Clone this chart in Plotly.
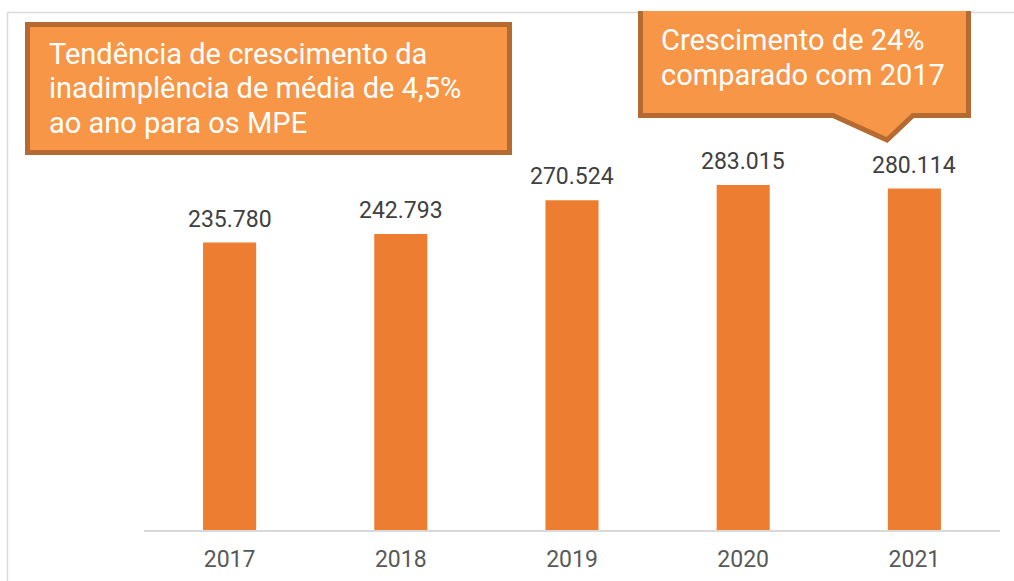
import plotly.graph_objects as go

# ---- data ----
years = ["2017", "2018", "2019", "2020", "2021"]
values = [235780, 242793, 270524, 283015, 280114]
note_left = ["Tendência de crescimento da", "inadimplência de média de 4,5%", "ao ano para os MPE"]
note_right = ["Crescimento de 24%", "comparado com 2017"]

W, H = 1014, 581
BAR = "#ED7D31"
BOX_FILL = "#F79646"
BOX_LINE = "#B46A30"
FONT = "Roboto, Arial, sans-serif"


def px(x):
    return x / W


def py(y):
    return 1 - y / H


def path(points, close=True):
    s = "M " + " L ".join(f"{px(x):.5f},{py(y):.5f}" for x, y in points)
    return s + (" Z" if close else "")


fig = go.Figure()
fig.add_trace(go.Bar(
    x=years, y=values, marker=dict(color=BAR, line=dict(width=0)),
    width=0.31, hoverinfo="skip",
))

def fmt(v):
    return f"{v:,}".replace(",", ".")

annotations = []
for i, v in enumerate(values):
    annotations.append(dict(
        x=i, y=v, xref="x", yref="y", text=fmt(v), showarrow=False,
        yanchor="bottom", yshift=8,
        font=dict(family=FONT, size=23, color="#404040"),
    ))

# text boxes (one annotation per line for tighter line spacing)
def add_lines(lines, x_left, y_first, step):
    for j, line in enumerate(lines):
        annotations.append(dict(
            x=px(x_left), y=py(y_first + j * step), xref="paper", yref="paper",
            xanchor="left", yanchor="middle", text=line, showarrow=False,
            font=dict(family=FONT, size=29, color="white"),
        ))

add_lines(note_left, 47, 54, 34.5)
add_lines(note_right, 659, 40, 34.5)

shapes = [
    # frame
    dict(type="line", xref="paper", yref="paper", x0=px(7.5), x1=1.01, y0=py(12.5), y1=py(12.5),
         line=dict(color="#D9D9D9", width=1.5), layer="below"),
    dict(type="line", xref="paper", yref="paper", x0=px(7.5), x1=px(7.5), y0=py(12.5), y1=-0.01,
         line=dict(color="#D9D9D9", width=1.5), layer="below"),
    # left box
    dict(type="rect", xref="paper", yref="paper", x0=px(27.5), x1=px(509.5), y0=py(24.5), y1=py(152.5),
         fillcolor=BOX_FILL, line=dict(color=BOX_LINE, width=5), layer="above"),
    # right callout fill
    dict(type="path", xref="paper", yref="paper",
         path=path([(640.5, 11), (640.5, 115.5), (833, 115.5), (887, 140), (913, 115.5), (968.5, 115.5), (968.5, 11)]),
         fillcolor=BOX_FILL, line=dict(width=0), layer="above"),
    # right callout border (open at top)
    dict(type="path", xref="paper", yref="paper",
         path=path([(640.5, 11), (640.5, 115.5), (833, 115.5), (887, 140), (913, 115.5), (968.5, 115.5), (968.5, 11)], close=False),
         line=dict(color=BOX_LINE, width=5), layer="above"),
]

k = 0.001219
ymax = 350000
top_px = 530 - ymax * k

fig.update_layout(
    width=W, height=H,
    margin=dict(l=0, r=0, t=0, b=0),
    paper_bgcolor="white", plot_bgcolor="white",
    showlegend=False,
    font=dict(family=FONT),
    xaxis=dict(
        type="category", range=[-0.5, 4.5],
        domain=[px(144), px(1000)],
        showgrid=False, showline=True, linecolor="#D9D9D9", linewidth=2,
        ticks="outside", ticklen=7, tickcolor="rgba(0,0,0,0)",
        tickfont=dict(family=FONT, size=23, color="#595959"),
        automargin=False, fixedrange=True,
    ),
    yaxis=dict(
        domain=[py(530), py(top_px)], range=[0, ymax],
        visible=False, showgrid=False, zeroline=False, automargin=False,
    ),
    annotations=annotations,
    shapes=shapes,
)

fig.write_html("out.html", config={"displayModeBar": False},
               post_script="document.body.style.margin='0px';")
